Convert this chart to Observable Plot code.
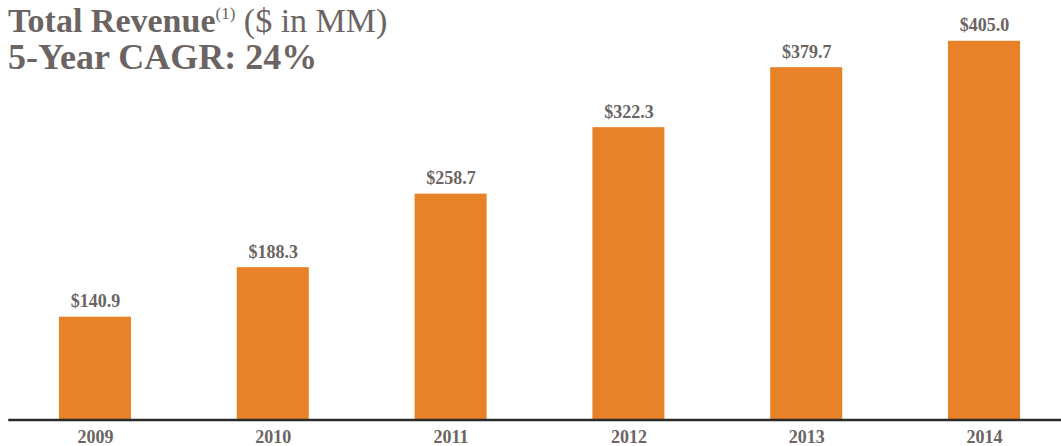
<!DOCTYPE html>
<html>
<head>
<meta charset="utf-8">
<script src="https://cdn.jsdelivr.net/npm/d3@7"></script>
<script src="https://cdn.jsdelivr.net/npm/@observablehq/plot@0.6"></script>
<style>
  html, body { margin: 0; padding: 0; background: #fff; }
  #wrap { position: relative; width: 1061px; height: 446px; font-family: "Liberation Serif", "Times New Roman", serif; color: #6b6462; }
  .t { position: absolute; left: 8px; white-space: nowrap; line-height: 32px; }
  #l1 { top: 5px; font-size: 34px; }
  #l2 { top: 41px; font-weight: bold; font-size: 36px; }
  sup { font-size: 17px; vertical-align: 0; position: relative; top: -13px; }
</style>
</head>
<body>
<div id="wrap">
  <div id="chart"></div>
  <div class="t" id="l1"><b>Total Revenue</b><sup>(1)</sup> ($ in MM)</div>
  <div class="t" id="l2">5-Year CAGR: 24%</div>
</div>
<script>
const years = ["2009", "2010", "2011", "2012", "2013", "2014"];
const revenue = [140.9, 188.3, 258.7, 322.3, 379.7, 405.0];
const labels = ["$140.9", "$188.3", "$258.7", "$322.3", "$379.7", "$405.0"];

const data = years.map((y, i) => ({year: y, value: revenue[i], label: labels[i]}));

const chart = Plot.plot({
  width: 1061,
  height: 446,
  marginTop: 0,
  marginLeft: 9,
  marginRight: 0,
  marginBottom: 26.5,
  style: {fontFamily: "Liberation Serif, Times New Roman, serif", background: "transparent"},
  x: {domain: years, range: [59, 1020], paddingInner: 0.595, paddingOuter: 0, round: false, label: null},
  y: {domain: [42.5, 444], clamp: true, axis: null},
  marks: [
    Plot.barY(data, {x: "year", y: "value", fill: "#E88229"}),
    Plot.text(data, {x: "year", y: "value", text: "label", dy: -10, lineAnchor: "bottom",
      fontSize: 18, fontWeight: "bold", fill: "#6b6462"}),
    Plot.frame({anchor: "bottom", stroke: "#2a2a2a", strokeWidth: 2.5}),
    Plot.axisX({tickSize: 0, tickPadding: 10, fontSize: 18, fontWeight: "bold", color: "#6b6462", label: null})
  ]
});
document.getElementById("chart").appendChild(chart);
</script>
</body>
</html>
